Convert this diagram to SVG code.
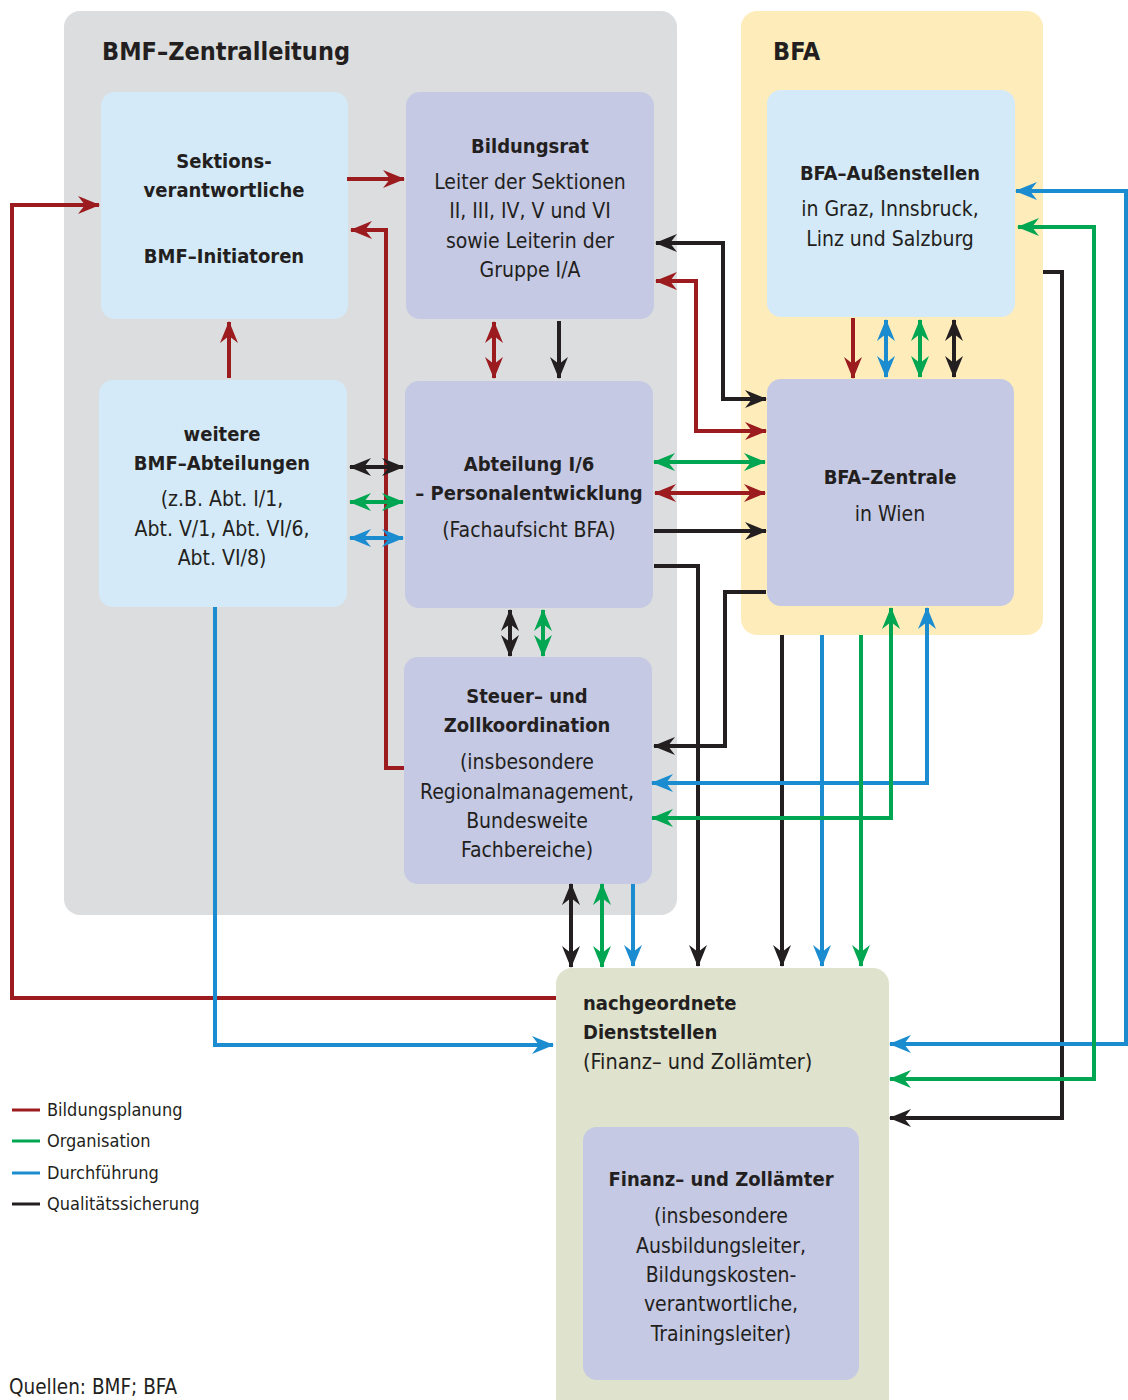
<svg xmlns="http://www.w3.org/2000/svg" width="1128" height="1400" viewBox="0 0 1128 1400">
<style>
text{font-family:"DejaVu Sans Condensed","DejaVu Sans","Liberation Sans",sans-serif;fill:#231f20;font-size:21px}
.c{text-anchor:middle}
.b{font-weight:bold;font-size:20px}
.t{font-size:25px;font-weight:bold}
.lg{font-size:18px}
.lb{fill:#d4eaf9}
.pu{fill:#c5c9e4}
.ln{fill:none;stroke-width:4}
.r{stroke:#9b1b1f}
.g{stroke:#00a651}
.bl{stroke:#1a8ccf}
.k{stroke:#231f20}
</style>
<defs>
<marker id="mr" viewBox="0 0 22 18" refX="21" refY="9" markerWidth="22" markerHeight="18" markerUnits="userSpaceOnUse" orient="auto-start-reverse"><path d="M0,0 L22,9 L0,18 L7,9 z" fill="#9b1b1f"/></marker>
<marker id="mg" viewBox="0 0 22 18" refX="21" refY="9" markerWidth="22" markerHeight="18" markerUnits="userSpaceOnUse" orient="auto-start-reverse"><path d="M0,0 L22,9 L0,18 L7,9 z" fill="#00a651"/></marker>
<marker id="mb" viewBox="0 0 22 18" refX="21" refY="9" markerWidth="22" markerHeight="18" markerUnits="userSpaceOnUse" orient="auto-start-reverse"><path d="M0,0 L22,9 L0,18 L7,9 z" fill="#1a8ccf"/></marker>
<marker id="mk" viewBox="0 0 22 18" refX="21" refY="9" markerWidth="22" markerHeight="18" markerUnits="userSpaceOnUse" orient="auto-start-reverse"><path d="M0,0 L22,9 L0,18 L7,9 z" fill="#231f20"/></marker>
</defs>
<rect width="1128" height="1400" fill="#ffffff"/>

<g id="bmf-zentralleitung">
<rect x="64" y="11" width="613" height="904" rx="16" fill="#dcdddf"/>
<text x="102" y="60" class="t">BMF–Zentralleitung</text>
</g>
<g id="bfa">
<rect x="741" y="11" width="302" height="624" rx="16" fill="#feedbb"/>
<text x="773" y="60" class="t">BFA</text>
</g>

<g id="sektionsverantwortliche">
<rect x="101" y="92" width="247" height="227" rx="14" class="lb"/>
<text x="224" y="168" class="c b">Sektions-</text>
<text x="224" y="197" class="c b">verantwortliche</text>
<text x="224" y="263" class="c b">BMF–Initiatoren</text>
</g>
<g id="bildungsrat">
<rect x="406" y="92" width="248" height="227" rx="14" class="pu"/>
<text x="530" y="153" class="c b">Bildungsrat</text>
<text x="530" y="189" class="c">Leiter der Sektionen</text>
<text x="530" y="218" class="c">II, III, IV, V und VI</text>
<text x="530" y="248" class="c">sowie Leiterin der</text>
<text x="530" y="277" class="c">Gruppe I/A</text>
</g>
<g id="weitere-bmf-abteilungen">
<rect x="99" y="380" width="248" height="227" rx="14" class="lb"/>
<text x="222" y="441" class="c b">weitere</text>
<text x="222" y="470" class="c b">BMF–Abteilungen</text>
<text x="222" y="506" class="c">(z.B. Abt. I/1,</text>
<text x="222" y="536" class="c">Abt. V/1, Abt. VI/6,</text>
<text x="222" y="565" class="c">Abt. VI/8)</text>
</g>
<g id="abteilung-i6">
<rect x="405" y="381" width="248" height="227" rx="14" class="pu"/>
<text x="529" y="471" class="c b">Abteilung I/6</text>
<text x="529" y="500" class="c b">– Personalentwicklung</text>
<text x="529" y="537" class="c">(Fachaufsicht BFA)</text>
</g>
<g id="steuer-zollkoordination">
<rect x="404" y="657" width="248" height="227" rx="14" class="pu"/>
<text x="527" y="703" class="c b">Steuer– und</text>
<text x="527" y="732" class="c b">Zollkoordination</text>
<text x="527" y="769" class="c">(insbesondere</text>
<text x="527" y="799" class="c">Regionalmanagement,</text>
<text x="527" y="828" class="c">Bundesweite</text>
<text x="527" y="857" class="c">Fachbereiche)</text>
</g>
<g id="bfa-aussenstellen">
<rect x="767" y="90" width="248" height="227" rx="14" class="lb"/>
<text x="890" y="180" class="c b">BFA–Außenstellen</text>
<text x="890" y="216" class="c">in Graz, Innsbruck,</text>
<text x="890" y="246" class="c">Linz und Salzburg</text>
</g>
<g id="bfa-zentrale">
<rect x="767" y="379" width="247" height="227" rx="14" class="pu"/>
<text x="890" y="484" class="c b">BFA–Zentrale</text>
<text x="890" y="521" class="c">in Wien</text>
</g>
<g id="nachgeordnete-dienststellen">
<rect x="556" y="968" width="333" height="450" rx="16" fill="#dfe2cc"/>
<text x="583" y="1010" class="b">nachgeordnete</text>
<text x="583" y="1039" class="b">Dienststellen</text>
<text x="583" y="1069" style="font-size:21.5px">(Finanz– und Zollämter)</text>
</g>
<g id="finanz-zollaemter">
<rect x="583" y="1127" width="276" height="253" rx="14" class="pu"/>
<text x="721" y="1186" class="c b">Finanz– und Zollämter</text>
<text x="721" y="1223" class="c">(insbesondere</text>
<text x="721" y="1253" class="c">Ausbildungsleiter,</text>
<text x="721" y="1282" class="c">Bildungskosten-</text>
<text x="721" y="1311" class="c">verantwortliche,</text>
<text x="721" y="1341" class="c">Trainingsleiter)</text>
</g>

<g id="connectors">
<path class="ln r" d="M347,179 H404" marker-end="url(#mr)"/>
<path class="ln r" d="M404,768 H386 V230 H351" marker-end="url(#mr)"/>
<path class="ln r" d="M229,378 V322" marker-end="url(#mr)"/>
<path class="ln r" d="M556,998 H12 V205 H99" marker-end="url(#mr)"/>
<path class="ln r" d="M494,322 V378" marker-start="url(#mr)" marker-end="url(#mr)"/>
<path class="ln r" d="M656,281 H696 V431 H766" marker-start="url(#mr)" marker-end="url(#mr)"/>
<path class="ln r" d="M655,493 H765" marker-start="url(#mr)" marker-end="url(#mr)"/>
<path class="ln r" d="M853,318 V378" marker-end="url(#mr)"/>

<path class="ln k" d="M656,243 H723 V399 H766" marker-start="url(#mk)" marker-end="url(#mk)"/>
<path class="ln k" d="M559,321 V378" marker-end="url(#mk)"/>
<path class="ln k" d="M350,467 H403" marker-start="url(#mk)" marker-end="url(#mk)"/>
<path class="ln k" d="M654,531 H766" marker-end="url(#mk)"/>
<path class="ln k" d="M654,566 H698 V966" marker-end="url(#mk)"/>
<path class="ln k" d="M766,592 H725 V746 H654" marker-end="url(#mk)"/>
<path class="ln k" d="M510,610 V656" marker-start="url(#mk)" marker-end="url(#mk)"/>
<path class="ln k" d="M571,884 V967" marker-start="url(#mk)" marker-end="url(#mk)"/>
<path class="ln k" d="M782,635 V966" marker-end="url(#mk)"/>
<path class="ln k" d="M954,320 V377" marker-start="url(#mk)" marker-end="url(#mk)"/>
<path class="ln k" d="M1043,272 H1062 V1118 H890" marker-end="url(#mk)"/>

<path class="ln bl" d="M350,538 H403" marker-start="url(#mb)" marker-end="url(#mb)"/>
<path class="ln bl" d="M215,607 V1045 H553" marker-end="url(#mb)"/>
<path class="ln bl" d="M886,320 V377" marker-start="url(#mb)" marker-end="url(#mb)"/>
<path class="ln bl" d="M927,608 V783 H652" marker-start="url(#mb)" marker-end="url(#mb)"/>
<path class="ln bl" d="M822,635 V966" marker-end="url(#mb)"/>
<path class="ln bl" d="M633,884 V966" marker-end="url(#mb)"/>
<path class="ln bl" d="M890,1044 H1126 V191 H1016" marker-start="url(#mb)" marker-end="url(#mb)"/>

<path class="ln g" d="M350,502 H403" marker-start="url(#mg)" marker-end="url(#mg)"/>
<path class="ln g" d="M654,462 H765" marker-start="url(#mg)" marker-end="url(#mg)"/>
<path class="ln g" d="M543,610 V656" marker-start="url(#mg)" marker-end="url(#mg)"/>
<path class="ln g" d="M920,320 V377" marker-start="url(#mg)" marker-end="url(#mg)"/>
<path class="ln g" d="M891,608 V818 H652" marker-start="url(#mg)" marker-end="url(#mg)"/>
<path class="ln g" d="M861,635 V966" marker-end="url(#mg)"/>
<path class="ln g" d="M602,884 V967" marker-start="url(#mg)" marker-end="url(#mg)"/>
<path class="ln g" d="M890,1079 H1094 V227 H1018" marker-start="url(#mg)" marker-end="url(#mg)"/>
</g>

<g id="legend">
<line x1="12" y1="1110" x2="40" y2="1110" stroke="#9b1b1f" stroke-width="3"/>
<text x="47" y="1116" class="lg">Bildungsplanung</text>
<line x1="12" y1="1141" x2="40" y2="1141" stroke="#00a651" stroke-width="3"/>
<text x="47" y="1147" class="lg">Organisation</text>
<line x1="12" y1="1173" x2="40" y2="1173" stroke="#1a8ccf" stroke-width="3"/>
<text x="47" y="1179" class="lg">Durchführung</text>
<line x1="12" y1="1204" x2="40" y2="1204" stroke="#231f20" stroke-width="3"/>
<text x="47" y="1210" class="lg">Qualitätssicherung</text>
</g>
<text x="9" y="1394" style="font-size:20.5px">Quellen: BMF; BFA</text>
</svg>
